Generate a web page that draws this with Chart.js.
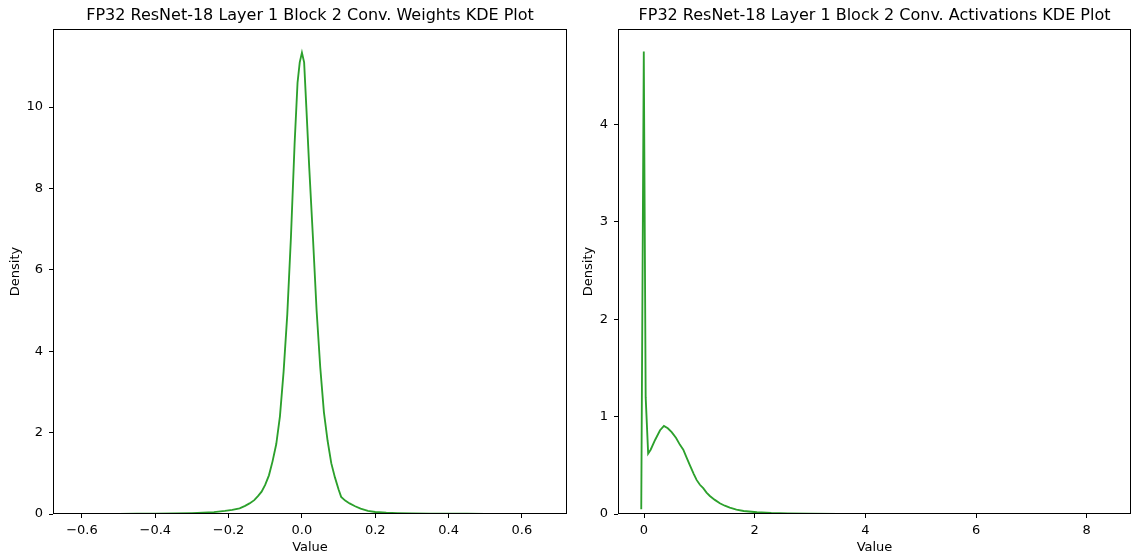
<!DOCTYPE html>
<html>
<head>
<meta charset="utf-8">
<script src="https://cdn.jsdelivr.net/npm/chart.js@4/dist/chart.umd.min.js"></script>
<style>
  html, body { margin: 0; padding: 0; background: #fff; }
  #wrap { position: relative; width: 1135px; height: 556px; overflow: hidden; }
  .pane { position: absolute; top: 0; }
</style>
</head>
<body>
<div id="wrap">
  <div class="pane" style="left:0px;"><canvas id="c1" width="570" height="556"></canvas></div>
  <div class="pane" style="left:570px;"><canvas id="c2" width="565" height="556"></canvas></div>
</div>
<script>
// ---------- Data: left panel (weights KDE) ----------
const weightX = [-0.614, -0.55, -0.5, -0.45, -0.4, -0.35, -0.3, -0.27, -0.24, -0.21, -0.19, -0.17,
  -0.155, -0.143, -0.13, -0.12, -0.11, -0.1, -0.09, -0.08, -0.07, -0.06, -0.05, -0.04, -0.03,
  -0.02, -0.012, -0.006, 0, 0.006, 0.012, 0.02, 0.03, 0.04, 0.05, 0.06, 0.07, 0.08, 0.09, 0.1,
  0.107, 0.118, 0.13, 0.145, 0.16, 0.18, 0.2, 0.23, 0.26, 0.3, 0.35, 0.4, 0.45, 0.5, 0.55, 0.6, 0.659];
const weightDensity = [0.002, 0.003, 0.004, 0.006, 0.008, 0.012, 0.02, 0.03, 0.045, 0.075, 0.1, 0.14,
  0.2, 0.26, 0.34, 0.44, 0.55, 0.72, 0.95, 1.3, 1.72, 2.4, 3.5, 4.9, 6.8,
  9.1, 10.6, 11.1, 11.34, 11.1, 10.0, 8.5, 6.8, 5.0, 3.6, 2.5, 1.8, 1.25, 0.9, 0.6,
  0.42, 0.33, 0.26, 0.19, 0.13, 0.075, 0.05, 0.03, 0.02, 0.014, 0.01, 0.008, 0.006, 0.004, 0.003, 0.002, 0.001];
const weightXTicks = [-0.6, -0.4, -0.2, 0.0, 0.2, 0.4, 0.6];
const weightYTicks = [0, 2, 4, 6, 8, 10];

// ---------- Data: right panel (activations KDE) ----------
const actX = [-0.05, -0.004, 0.03, 0.075, 0.12, 0.2, 0.29, 0.36, 0.43, 0.5, 0.58, 0.65, 0.71, 0.77,
  0.83, 0.9, 0.95, 1.01, 1.07, 1.13, 1.19, 1.28, 1.37, 1.46, 1.55, 1.67, 1.8, 2.04, 2.3, 2.6,
  3.0, 3.5, 4, 5, 6, 7, 8, 8.38];
const actDensity = [0.05, 4.75, 1.2, 0.62, 0.66, 0.76, 0.86, 0.905, 0.88, 0.84, 0.78, 0.71, 0.66, 0.58,
  0.5, 0.41, 0.35, 0.3, 0.265, 0.22, 0.185, 0.145, 0.11, 0.085, 0.065, 0.045, 0.031, 0.018, 0.01, 0.006,
  0.003, 0.0015, 0.001, 0.0005, 0.0003, 0.0002, 0.0001, 0.0001];
const actXTicks = [0, 2, 4, 6, 8];
const actYTicks = [0, 1, 2, 3, 4];

const titles = [
  'FP32 ResNet-18 Layer 1 Block 2 Conv. Weights KDE Plot',
  'FP32 ResNet-18 Layer 1 Block 2 Conv. Activations KDE Plot'
];

Chart.defaults.font.family = '"DejaVu Sans", sans-serif';
Chart.defaults.color = '#000';

const frame = {
  id: 'frame',
  afterDraw(chart) {
    const a = chart.chartArea, ctx = chart.ctx;
    ctx.save();
    ctx.strokeStyle = '#000';
    ctx.lineWidth = 1;
    ctx.strokeRect(Math.round(a.left) + 0.5, Math.round(a.top) + 0.5,
                   Math.round(a.right - a.left) - 1, Math.round(a.bottom - a.top) - 1);
    ctx.restore();
  }
};

function fmt(decimals) {
  return v => {
    const s = Number(v).toFixed(decimals);
    return s.startsWith('-') ? '\u2212' + s.slice(1) : s;
  };
}

function makeChart(id, xs, ys, xTicks, yTicks, xMin, xMax, yMax, xDec, yAxisW, padRight, yTitlePad, title) {
  const pts = xs.map((x, i) => ({ x: x, y: ys[i] }));
  return new Chart(document.getElementById(id), {
    type: 'line',
    data: { datasets: [{
      data: pts,
      borderColor: '#2ca02c',
      borderWidth: 1.85,
      pointRadius: 0,
      tension: 0,
      fill: false
    }]},
    plugins: [frame],
    options: {
      responsive: false,
      animation: false,
      layout: { padding: { left: 0, right: padRight, top: 0, bottom: 0 } },
      plugins: {
        legend: { display: false },
        tooltip: { enabled: false },
        title: {
          display: true, text: title, fullSize: false, color: '#000',
          font: { size: 16, weight: 'normal', lineHeight: 1.2 },
          padding: { top: 6, bottom: 3.8 }
        }
      },
      scales: {
        x: {
          type: 'linear', min: xMin, max: xMax,
          afterFit: s => { s.height = 42; },
          afterBuildTicks: s => { s.ticks = xTicks.map(v => ({ value: v })); },
          border: { display: false },
          grid: { display: true, drawOnChartArea: false, drawTicks: true, tickLength: 4, tickColor: '#000', tickWidth: 1 },
          ticks: { callback: fmt(xDec), padding: 4.5, maxRotation: 0, autoSkip: false, font: { size: 13 }, color: '#000' },
          title: { display: true, text: 'Value', font: { size: 13, lineHeight: 1.2 }, padding: { top: 0, bottom: 0.5 }, color: '#000' }
        },
        y: {
          type: 'linear', min: 0, max: yMax,
          afterFit: s => { s.width = yAxisW; },
          afterBuildTicks: s => { s.ticks = yTicks.map(v => ({ value: v })); },
          border: { display: false },
          grid: { display: true, drawOnChartArea: false, drawTicks: true, tickLength: 4, tickColor: '#000', tickWidth: 1 },
          ticks: { callback: fmt(0), padding: 6, autoSkip: false, font: { size: 13 }, color: '#000' },
          title: { display: true, text: 'Density', font: { size: 13, lineHeight: 1.2 }, padding: { top: yTitlePad, bottom: 0 }, color: '#000' }
        }
      }
    }
  });
}

makeChart('c1', weightX, weightDensity, weightXTicks, weightYTicks, -0.679, 0.723, 11.92, 1, 53, 3, 8.2, titles[0]);
makeChart('c2', actX, actDensity, actXTicks, actYTicks, -0.47, 8.80, 4.98, 0, 48, 4, 11.2, titles[1]);
</script>
</body>
</html>
